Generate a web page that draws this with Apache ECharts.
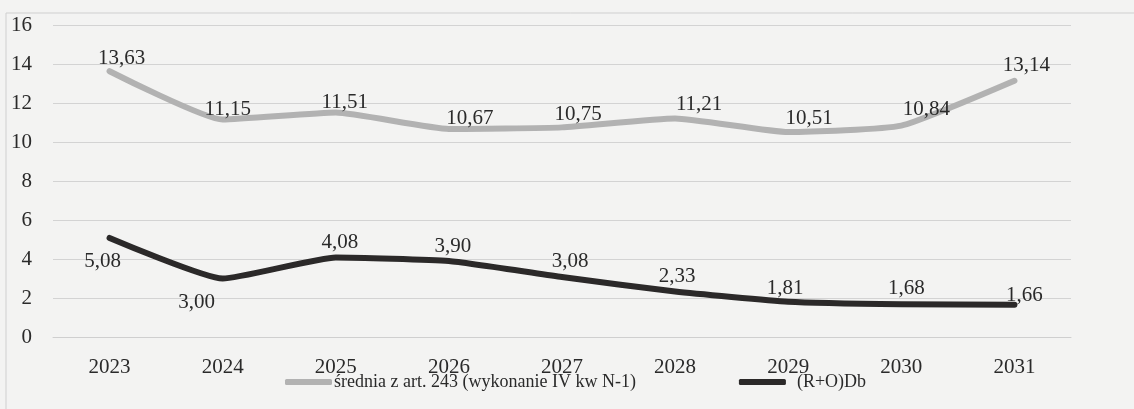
<!DOCTYPE html>
<html>
<head>
<meta charset="utf-8">
<script src="https://cdn.jsdelivr.net/npm/echarts@6/dist/echarts.min.js"></script>
<style>
html,body{margin:0;padding:0;background:#f3f3f2;}
#c{width:1134px;height:409px;}
</style>
</head>
<body>
<div id="c"></div>
<script>
const categories = ['2023','2024','2025','2026','2027','2028','2029','2030','2031'];
const seriesNames = ['średnia z art. 243 (wykonanie IV kw N-1)', '(R+O)Db'];
const sredniaValues = [13.63, 11.15, 11.51, 10.67, 10.75, 11.21, 10.51, 10.84, 13.14];
const roDbValues = [5.08, 3.00, 4.08, 3.90, 3.08, 2.33, 1.81, 1.68, 1.66];
const yTicks = [0, 2, 4, 6, 8, 10, 12, 14, 16];

const serif = '"Liberation Serif", "DejaVu Serif", serif';
const fmt = v => v.toFixed(2).replace('.', ',');

const greyLabelOffsets = [[12,1],[5,4],[9,4],[21,4],[16,1],[24,0],[21,0],[25,-2],[12,-1]];
const blackLabelPos = ['bottom','bottom','top','top','top','top','top','top','top'];
const blackLabelOffsets = [[-7,10],[-26,10],[4,-1],[4,0],[8,-1],[2,-1],[-3,1],[5,-2],[10,5]];

const greyData = sredniaValues.map((v,i)=>({value:v,label:{offset:greyLabelOffsets[i]}}));
const blackData = roDbValues.map((v,i)=>({value:v,label:{position:blackLabelPos[i],offset:blackLabelOffsets[i]}}));

const chart = echarts.init(document.getElementById('c'));
chart.setOption({
  backgroundColor: '#f3f3f2',
  animation: false,
  textStyle: {fontFamily: serif},
  graphic: [{
    type: 'rect', shape: {x: 6, y: 13, width: 1140, height: 400},
    style: {fill: 'none', stroke: '#cfcfcf', lineWidth: 1}, silent: true
  }],
  grid: {left: 53, right: 63, top: 25, bottom: 72},
  legend: {
    left: 280, top: 368,
    itemWidth: 47, itemHeight: 6, itemGap: 103,
    icon: 'roundRect',
    textStyle: {fontFamily: serif, fontSize: 18, color: '#2a2a2a', padding: [0,0,0,-3]},
    data: [
      {name: seriesNames[0]},
      {name: seriesNames[1], textStyle: {padding: [0,0,0,6]}}
    ]
  },
  xAxis: {
    type: 'category', data: categories, boundaryGap: true,
    axisLine: {show: true, lineStyle: {color: '#cfcfcf', width: 1}},
    axisTick: {show: false},
    axisLabel: {fontFamily: serif, fontSize: 21, color: '#2a2a2a', margin: 20}
  },
  yAxis: {
    type: 'value', min: yTicks[0], max: yTicks[yTicks.length-1], interval: 2,
    axisLine: {show: false}, axisTick: {show: false},
    axisLabel: {fontFamily: serif, fontSize: 21, color: '#2a2a2a', margin: 21},
    splitLine: {lineStyle: {color: '#d3d3d3', width: 1}}
  },
  series: [
    {
      name: seriesNames[0], type: 'line', data: greyData,
      smooth: 0.15, symbol: 'circle', symbolSize: 1, showSymbol: true,
      lineStyle: {color: '#b2b2b2', width: 6, cap: 'round', join: 'round'},
      itemStyle: {color: '#b2b2b2'},
      label: {show: true, position: 'top', distance: 3, formatter: p => fmt(p.value),
        fontFamily: serif, fontSize: 21, color: '#2a2a2a'}
    },
    {
      name: seriesNames[1], type: 'line', data: blackData,
      smooth: 0.15, symbol: 'circle', symbolSize: 1, showSymbol: true,
      lineStyle: {color: '#2b2929', width: 6, cap: 'round', join: 'round'},
      itemStyle: {color: '#2b2929'},
      label: {show: true, position: 'top', distance: 3, formatter: p => fmt(p.value),
        fontFamily: serif, fontSize: 21, color: '#2a2a2a'}
    }
  ]
});
</script>
</body>
</html>
